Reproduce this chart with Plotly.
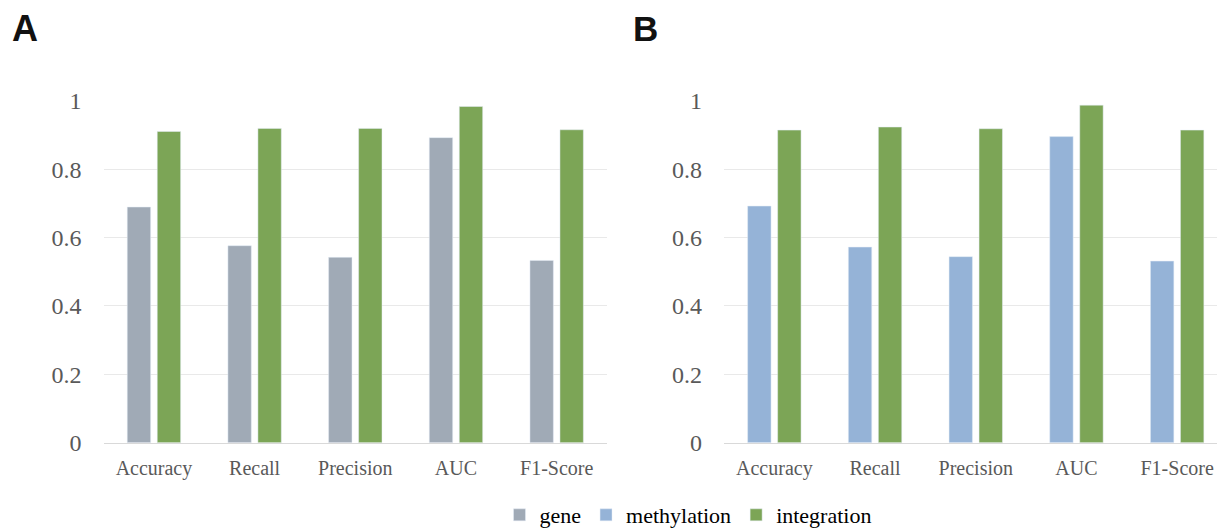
import plotly.graph_objects as go

categories = ["Accuracy", "Recall", "Precision", "AUC", "F1-Score"]
gene_vals = [0.689, 0.576, 0.542, 0.892, 0.533]
integration_a = [0.910, 0.919, 0.919, 0.983, 0.915]
methylation_vals = [0.692, 0.572, 0.544, 0.895, 0.531]
integration_b = [0.914, 0.923, 0.918, 0.987, 0.914]
y_ticks = [0, 0.2, 0.4, 0.6, 0.8, 1]
y_ticktext = ["0", "0.2", "0.4", "0.6", "0.8", "1"]

C_GENE = "#A0AAB6"
C_METH = "#95B3D7"
C_INT = "#7CA556"

W, H = 1217, 529
fig = go.Figure()
fig.add_trace(go.Bar(x=categories, y=gene_vals, name="gene", marker_color=C_GENE,
                     xaxis="x", yaxis="y", legendrank=1))
fig.add_trace(go.Bar(x=categories, y=integration_a, name="integration", marker_color=C_INT,
                     xaxis="x", yaxis="y", legendrank=3))
fig.add_trace(go.Bar(x=categories, y=methylation_vals, name="methylation", marker_color=C_METH,
                     xaxis="x2", yaxis="y2", legendrank=2))
fig.add_trace(go.Bar(x=categories, y=integration_b, name="integration", marker_color=C_INT,
                     xaxis="x2", yaxis="y2", showlegend=False, legendrank=4))

serif = "Liberation Serif, Times New Roman, serif"
ydom = [(H - 442.7) / H, (H - 100.7) / H]
common_x = dict(showgrid=False, showline=True, linecolor="#D9D9D9", linewidth=1,
                ticks="", tickfont=dict(family=serif, size=20, color="#595959"),
                ticklabelstandoff=7, zeroline=False, fixedrange=True, automargin=False)
common_y = dict(range=[0, 1], tickvals=y_ticks, ticktext=y_ticktext, showgrid=True,
                gridcolor="#E9E9E9", gridwidth=1, zeroline=False, showline=False, ticks="",
                tickfont=dict(family=serif, size=24, color="#595959"),
                ticklabelstandoff=21, domain=ydom, automargin=False)

slot = 100.7
fig.update_layout(
    width=W, height=H,
    margin=dict(l=0, r=0, t=0, b=0, pad=0, autoexpand=False),
    paper_bgcolor="white", plot_bgcolor="white",
    barmode="group", bargap=0.404, bargroupgap=0.22,
    xaxis=dict(domain=[103.6 / W, 607 / W], range=[-0.5, 4.5], anchor="y", **common_x),
    yaxis=dict(anchor="x", **common_y),
    xaxis2=dict(domain=[724 / W, 1.0], range=[-0.5, 4.5 - (724 + 5 * slot - W) / slot],
                anchor="y2", **common_x),
    yaxis2=dict(anchor="x2", **common_y),
    legend=dict(orientation="h", x=688 / W, xanchor="center", y=(H - 515) / H, yanchor="middle",
                font=dict(family=serif, size=22, color="#000000"), bgcolor="rgba(0,0,0,0)",
                traceorder="normal"),
    showlegend=True,
    annotations=[
        dict(text="<b>A</b>", x=10 / W, y=(H - 29) / H, xref="paper", yref="paper",
             xanchor="left", yanchor="middle", showarrow=False,
             font=dict(family="Liberation Sans, Arial, sans-serif", size=36, color="#111111")),
        dict(text="<b>B</b>", x=631 / W, y=(H - 29) / H, xref="paper", yref="paper",
             xanchor="left", yanchor="middle", showarrow=False,
             font=dict(family="Liberation Sans, Arial, sans-serif", size=35, color="#111111")),
    ],
)

fig.write_html("out.html")
